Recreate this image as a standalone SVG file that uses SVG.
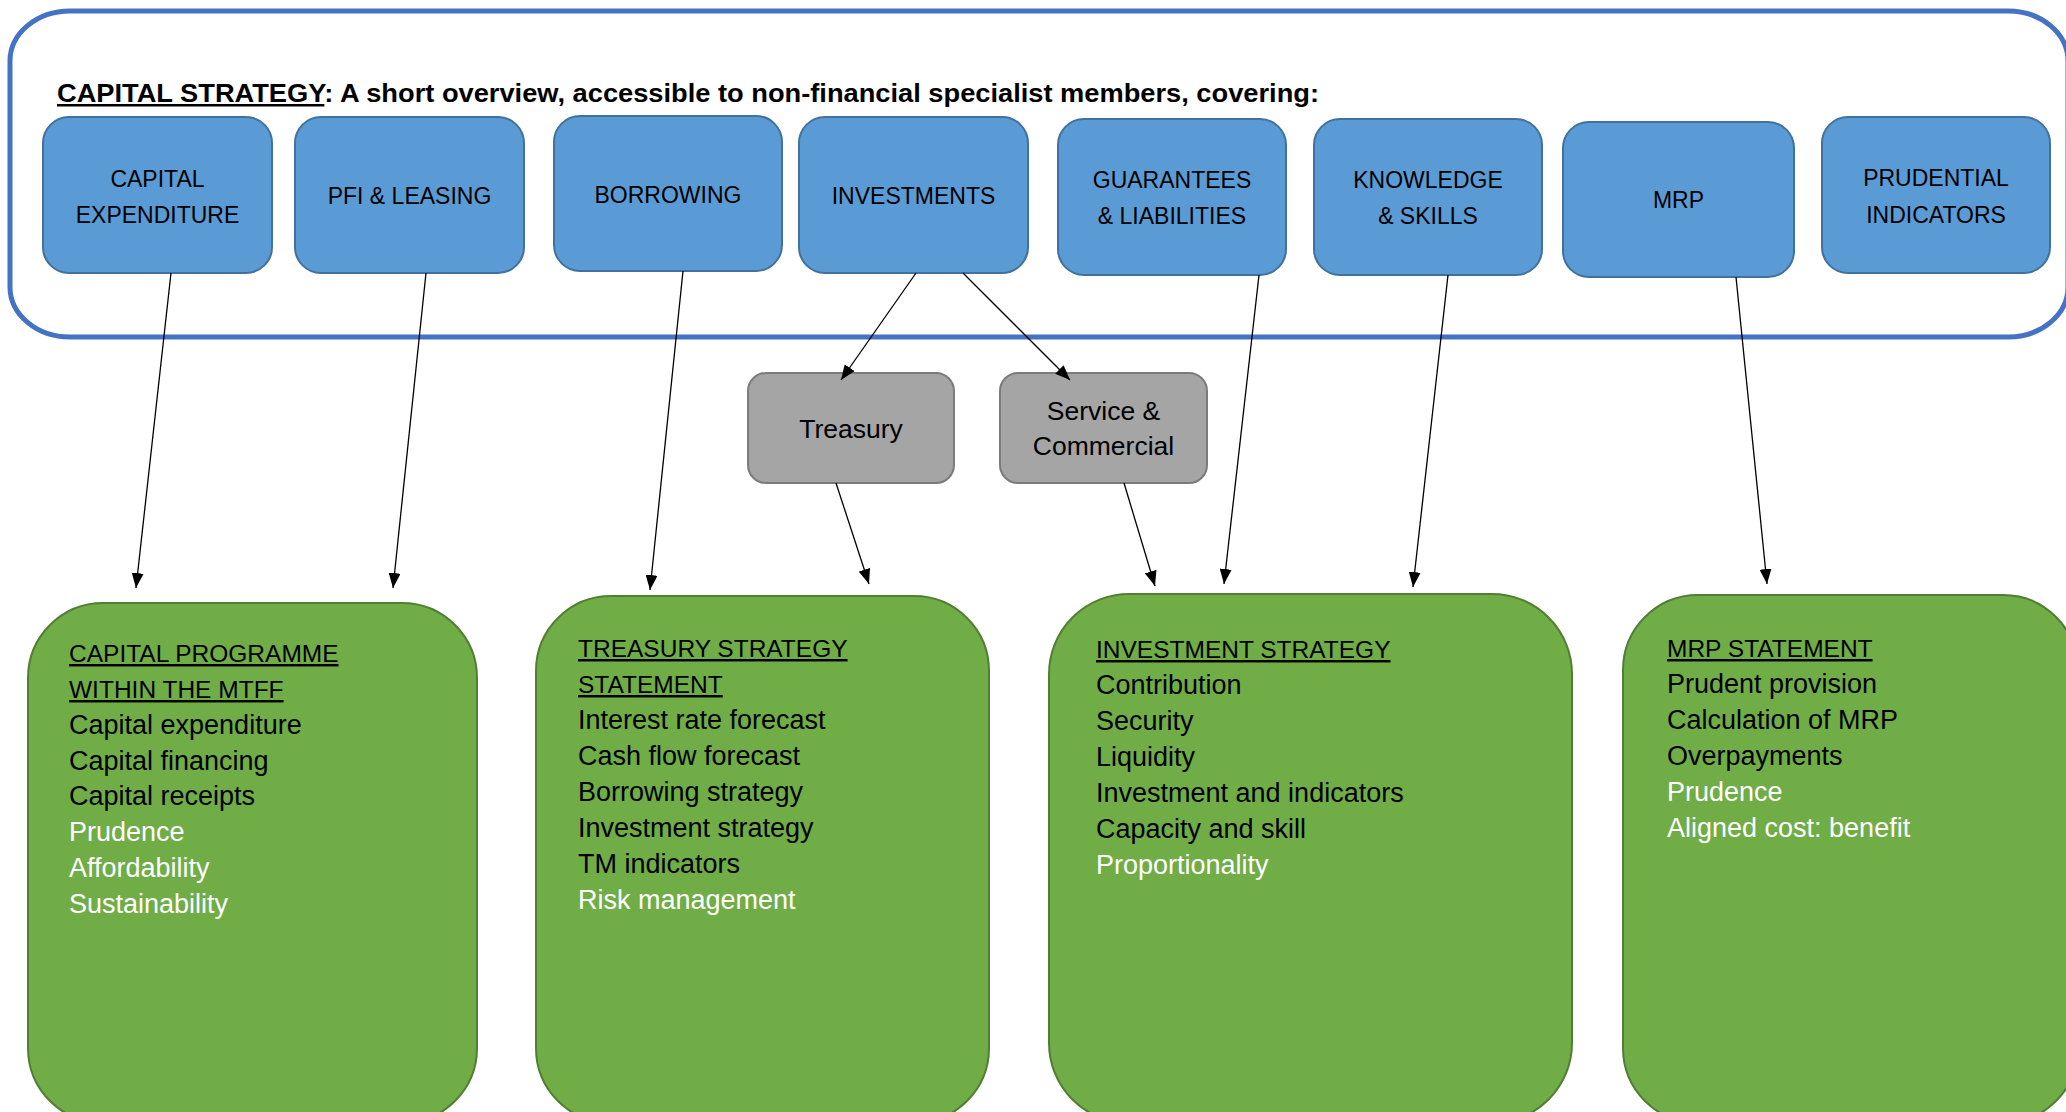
<svg xmlns="http://www.w3.org/2000/svg" width="2066" height="1112" viewBox="0 0 2066 1112">
<style>
.blue{fill:#5B9BD5;stroke:#41719C;stroke-width:2}
.gray{fill:#A5A5A5;stroke:#7B7B7B;stroke-width:2}
.green{fill:#70AD47;stroke:#507E32;stroke-width:2}
.bt{font-family:"Liberation Sans",Arial,sans-serif;font-size:23px;fill:#000;text-anchor:middle}
.gt{font-family:"Liberation Sans",Arial,sans-serif;font-size:26.5px;fill:#000;text-anchor:middle}
.lt{font-family:"Liberation Sans",Arial,sans-serif;font-size:27px;fill:#000}
.cap{font-size:24.5px}
.w{fill:#fff}
.u{text-decoration:underline}
.conn line{stroke:#000;stroke-width:1.3;marker-end:url(#arr)}
</style>
<defs>
<marker id="arr" markerUnits="userSpaceOnUse" markerWidth="16" markerHeight="12" refX="15" refY="6" orient="auto">
<path d="M0,0 L15,6 L0,12 z" fill="#000"/>
</marker>
</defs>
<rect width="2066" height="1112" fill="#fff"/>

<g id="capital-strategy">
<rect x="10" y="11" width="2058" height="326" rx="60" ry="50" fill="none" stroke="#4472C4" stroke-width="5"/>
<text x="57" y="102" font-family="Liberation Sans,Arial,sans-serif" font-size="25" font-weight="bold" textLength="1262" lengthAdjust="spacingAndGlyphs"><tspan class="u">CAPITAL STRATEGY</tspan>: A short overview, accessible to non-financial specialist members, covering:</text>
</g>

<g id="capital-expenditure">
<rect class="blue" x="43" y="117" width="229" height="156" rx="26"/>
<text class="bt" x="157.5" y="187">CAPITAL</text>
<text class="bt" x="157.5" y="223">EXPENDITURE</text>
</g>
<g id="pfi-leasing">
<rect class="blue" x="295" y="117" width="229" height="156" rx="26"/>
<text class="bt" x="409.5" y="204">PFI &amp; LEASING</text>
</g>
<g id="borrowing">
<rect class="blue" x="554" y="116" width="228" height="155" rx="26"/>
<text class="bt" x="668" y="203">BORROWING</text>
</g>
<g id="investments">
<rect class="blue" x="799" y="117" width="229" height="156" rx="26"/>
<text class="bt" x="913.5" y="204">INVESTMENTS</text>
</g>
<g id="guarantees">
<rect class="blue" x="1058" y="119" width="228" height="156" rx="26"/>
<text class="bt" x="1172" y="188">GUARANTEES</text>
<text class="bt" x="1172" y="224">&amp; LIABILITIES</text>
</g>
<g id="knowledge">
<rect class="blue" x="1314" y="119" width="228" height="156" rx="26"/>
<text class="bt" x="1428" y="188">KNOWLEDGE</text>
<text class="bt" x="1428" y="224">&amp; SKILLS</text>
</g>
<g id="mrp">
<rect class="blue" x="1563" y="122" width="231" height="155" rx="26"/>
<text class="bt" x="1678.5" y="208">MRP</text>
</g>
<g id="prudential">
<rect class="blue" x="1822" y="117" width="228" height="156" rx="26"/>
<text class="bt" x="1936" y="186">PRUDENTIAL</text>
<text class="bt" x="1936" y="223">INDICATORS</text>
</g>

<g id="treasury">
<rect class="gray" x="748" y="373" width="206" height="110" rx="18"/>
<text class="gt" x="851" y="438">Treasury</text>
</g>
<g id="service-commercial">
<rect class="gray" x="1000" y="373" width="207" height="110" rx="18"/>
<text class="gt" x="1103.5" y="420">Service &amp;</text>
<text class="gt" x="1103.5" y="455">Commercial</text>
</g>

<g id="capital-programme">
<rect class="green" x="28" y="603" width="449" height="520" rx="75"/>
<text class="lt cap" x="69" y="662"><tspan class="u">CAPITAL PROGRAMME</tspan></text>
<text class="lt cap" x="69" y="698"><tspan class="u">WITHIN THE MTFF</tspan></text>
<text class="lt" x="69" y="734">Capital expenditure</text>
<text class="lt" x="69" y="770">Capital financing</text>
<text class="lt" x="69" y="805">Capital receipts</text>
<text class="lt w" x="69" y="841">Prudence</text>
<text class="lt w" x="69" y="877">Affordability</text>
<text class="lt w" x="69" y="913">Sustainability</text>
</g>
<g id="treasury-strategy">
<rect class="green" x="536" y="596" width="453" height="527" rx="75"/>
<text class="lt cap" x="578" y="657"><tspan class="u">TREASURY STRATEGY</tspan></text>
<text class="lt cap" x="578" y="693"><tspan class="u">STATEMENT</tspan></text>
<text class="lt" x="578" y="729">Interest rate forecast</text>
<text class="lt" x="578" y="765">Cash flow forecast</text>
<text class="lt" x="578" y="801">Borrowing strategy</text>
<text class="lt" x="578" y="837">Investment strategy</text>
<text class="lt" x="578" y="873">TM indicators</text>
<text class="lt w" x="578" y="909">Risk management</text>
</g>
<g id="investment-strategy">
<rect class="green" x="1049" y="594" width="523" height="529" rx="80"/>
<text class="lt cap" x="1096" y="658"><tspan class="u">INVESTMENT STRATEGY</tspan></text>
<text class="lt" x="1096" y="694">Contribution</text>
<text class="lt" x="1096" y="730">Security</text>
<text class="lt" x="1096" y="766">Liquidity</text>
<text class="lt" x="1096" y="802">Investment and indicators</text>
<text class="lt" x="1096" y="838">Capacity and skill</text>
<text class="lt w" x="1096" y="874">Proportionality</text>
</g>
<g id="mrp-statement">
<rect class="green" x="1623" y="595" width="455" height="528" rx="75"/>
<text class="lt cap" x="1667" y="657"><tspan class="u">MRP STATEMENT</tspan></text>
<text class="lt" x="1667" y="693">Prudent provision</text>
<text class="lt" x="1667" y="729">Calculation of MRP</text>
<text class="lt" x="1667" y="765">Overpayments</text>
<text class="lt w" x="1667" y="801">Prudence</text>
<text class="lt w" x="1667" y="837">Aligned cost: benefit</text>
</g>

<g id="connectors" class="conn">
<line x1="171" y1="273" x2="136" y2="588"/>
<line x1="426" y1="273" x2="393" y2="588"/>
<line x1="683" y1="271" x2="650" y2="590"/>
<line x1="916" y1="273" x2="841" y2="380"/>
<line x1="963" y1="273" x2="1070" y2="380"/>
<line x1="836" y1="483" x2="869" y2="584"/>
<line x1="1124" y1="483" x2="1155" y2="586"/>
<line x1="1259" y1="275" x2="1224" y2="584"/>
<line x1="1448" y1="275" x2="1413" y2="587"/>
<line x1="1736" y1="277" x2="1767" y2="584"/>
</g>
</svg>
